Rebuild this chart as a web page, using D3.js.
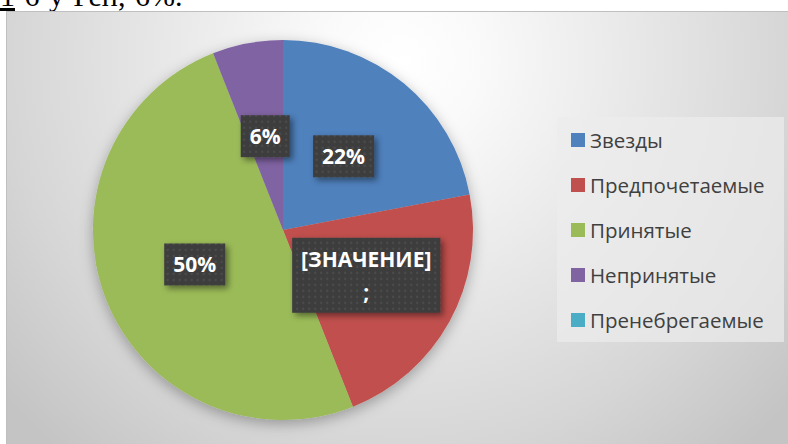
<!DOCTYPE html>
<html>
<head>
<meta charset="utf-8">
<script src="https://cdn.jsdelivr.net/npm/d3@7"></script>
<style>
body { margin: 0; background: #fff; overflow: hidden; }
</style>
</head>
<body>
<div id="chart"></div>
<script>
var categories = ["Звезды", "Предпочетаемые", "Принятые", "Непринятые", "Пренебрегаемые"];
var values = [22, 22, 50, 6, 0];
var labelTexts = ["22%", ["[ЗНАЧЕНИЕ]", ";"], "50%", "6%", ""];
var colors = ["#4f81bd", "#c0504d", "#9bbb59", "#8064a2", "#4bacc6"];

var W = 788, H = 444;
var svg = d3.select("#chart").append("svg")
    .attr("width", W)
    .attr("height", H);
var defs = svg.append("defs");

var bg = defs.append("radialGradient").attr("id", "bg")
    .attr("gradientUnits", "userSpaceOnUse")
    .attr("cx", 400).attr("cy", 60).attr("r", 520);
bg.append("stop").attr("offset", "0").attr("stop-color", "#ffffff");
bg.append("stop").attr("offset", "0.15").attr("stop-color", "#fafafa");
bg.append("stop").attr("offset", "0.75").attr("stop-color", "#d6d6d6");
bg.append("stop").attr("offset", "1").attr("stop-color", "#c4c4c4");

var shadow = defs.append("filter").attr("id", "shadow")
    .attr("x", "-20%").attr("y", "-20%").attr("width", "140%").attr("height", "140%");
shadow.append("feDropShadow").attr("dx", 0).attr("dy", 4)
    .attr("stdDeviation", 7).attr("flood-color", "#000").attr("flood-opacity", 0.3);

var boxShadow = defs.append("filter").attr("id", "boxShadow")
    .attr("x", "-30%").attr("y", "-30%").attr("width", "160%").attr("height", "160%");
boxShadow.append("feDropShadow").attr("dx", 3).attr("dy", 3)
    .attr("stdDeviation", 3).attr("flood-color", "#000").attr("flood-opacity", 0.45);

var dots = defs.append("pattern").attr("id", "dots")
    .attr("patternUnits", "userSpaceOnUse").attr("width", 6).attr("height", 6);
dots.append("rect").attr("width", 6).attr("height", 6).attr("fill", "#3d3d3d");
dots.append("circle").attr("cx", 3).attr("cy", 3).attr("r", 1.2).attr("fill", "#4c4c4c");

// cropped line of text above the chart
var headLine = svg.append("text")
    .attr("x", 0).attr("y", 6)
    .style("font-family", "'Liberation Serif', serif")
    .style("font-size", "30px")
    .style("word-spacing", "2px")
    .style("fill", "#000");
headLine.append("tspan").style("text-decoration", "underline").text("1");
headLine.append("tspan").text(" 6 у Ген, 6%.");

// chart area
svg.append("rect")
    .attr("x", 6.5).attr("y", 11.5)
    .attr("width", W).attr("height", H)
    .attr("fill", "url(#bg)")
    .attr("stroke", "#bfbfbf");

var cx = 283, cy = 230, R = 190;
var pie = d3.pie().sort(null).value(function(d) { return d; });
var arcs = pie(values);
var arc = d3.arc().innerRadius(0).outerRadius(R);

var g = svg.append("g").attr("transform", "translate(" + cx + "," + cy + ")");
g.append("g").attr("filter", "url(#shadow)")
    .selectAll("path").data(arcs).enter().append("path")
    .attr("d", arc)
    .attr("fill", function(d, i) { return colors[i]; });

var labels = g.selectAll("g.lbl").data(arcs.filter(function(d, i) { return d.value > 0; }))
    .enter().append("g").attr("class", "lbl")
    .attr("transform", function(d) { return "translate(" + arc.centroid(d) + ")"; });

labels.each(function(d) {
    var sel = d3.select(this);
    var t = labelTexts[d.index];
    var lines = Array.isArray(t) ? t : [t];
    var lh = 33;
    var rect = sel.append("rect").attr("fill", "url(#dots)").attr("filter", "url(#boxShadow)");
    var txt = sel.append("text")
        .attr("text-anchor", "middle")
        .style("font-family", "'Open Sans', sans-serif")
        .style("font-weight", "bold")
        .style("font-size", "21px")
        .style("fill", "#fff");
    lines.forEach(function(l, k) {
        txt.append("tspan").attr("x", 0)
            .attr("y", (k - (lines.length - 1) / 2) * lh + 7.5)
            .text(l);
    });
    var bb = txt.node().getBBox();
    var padX = 9, padY = 8;
    rect.attr("x", bb.x - padX).attr("y", bb.y - padY + 1)
        .attr("width", bb.width + 2 * padX).attr("height", bb.height + 2 * padY - 2);
});

// legend
var lx = 557, ly = 117;
svg.append("rect")
    .attr("x", lx).attr("y", ly).attr("width", 227).attr("height", 225)
    .attr("fill", "#ececec").attr("fill-opacity", 0.7);

var leg = svg.selectAll("g.leg").data(categories).enter().append("g")
    .attr("class", "leg")
    .attr("transform", function(d, i) { return "translate(" + 571 + "," + (140 + i * 45) + ")"; });
leg.append("rect")
    .attr("x", 0).attr("y", -7).attr("width", 14).attr("height", 14)
    .attr("fill", function(d, i) { return colors[i]; });
leg.append("text")
    .attr("x", 19).attr("y", 7.5)
    .style("font-family", "'Open Sans', sans-serif")
    .style("font-size", "20.5px")
    .style("fill", "#404040")
    .text(function(d) { return d; });
</script>
</body>
</html>
